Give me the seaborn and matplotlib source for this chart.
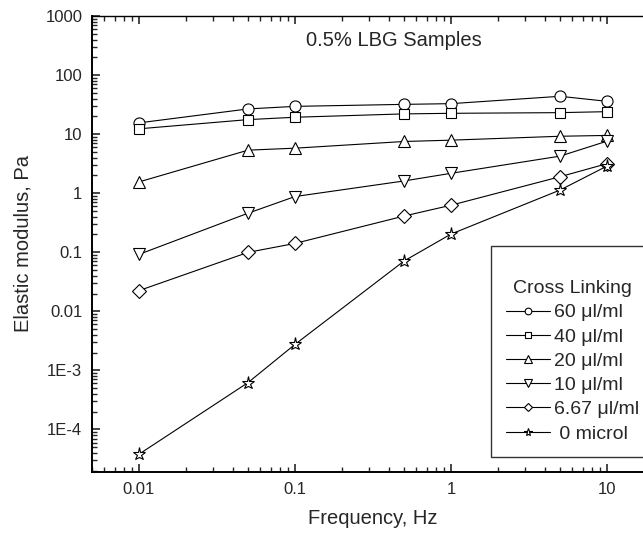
import pandas as pd
import matplotlib.pyplot as plt
import seaborn as sns
from matplotlib.ticker import FixedLocator, FixedFormatter, LogLocator, NullFormatter


#Readings taken from the reference figure
frequency = [0.01, 0.05, 0.1, 0.5, 1, 5, 10]
modulus_60 = [15.5, 26.7, 29.5, 31.9, 32.8, 43.7, 35.9]
modulus_40 = [12.3, 17.6, 19.3, 22.0, 22.5, 23.1, 24.0]
modulus_20 = [1.55, 5.35, 5.78, 7.5, 7.9, 9.2, 9.5]
modulus_10 = [0.092, 0.458, 0.877, 1.61, 2.17, 4.24, 7.6]
modulus_667 = [0.0224, 0.0995, 0.141, 0.41, 0.625, 1.9, 3.16]
modulus_0 = [3.8e-5, 6.2e-4, 2.75e-3, 0.071, 0.203, 1.13, 2.88]

series_names = ["60 \u03bcl/ml", "40 \u03bcl/ml", "20 \u03bcl/ml",
                "10 \u03bcl/ml", "6.67 \u03bcl/ml", " 0 microl"]
series_values = [modulus_60, modulus_40, modulus_20,
                 modulus_10, modulus_667, modulus_0]

y_tick_values = [1e-4, 1e-3, 0.01, 0.1, 1, 10, 100, 1000]
y_tick_labels = ["1E-4", "1E-3", "0.01", "0.1", "1", "10", "100", "1000"]
x_tick_values = [0.01, 0.1, 1, 10]
x_tick_labels = ["0.01", "0.1", "1", "10"]


#Long form table for seaborn
rows = []
for name, values in zip(series_names, series_values):
    for f, v in zip(frequency, values):
        rows.append({"frequency": f, "modulus": v, "crosslink": name})
lbg_data = pd.DataFrame(rows)


sns.set_style("white")
plt.rcParams["font.family"] = ["Liberation Sans", "DejaVu Sans"]

fig = plt.figure(figsize=(6.43, 5.36), dpi=100)
ax = fig.add_axes([92 / 643, 64 / 536, 562 / 643, 456 / 536])

marker_map = dict(zip(series_names, ["o", "s", "^", "v", "D", "*"]))
size_map = dict(zip(series_names, [8, 7, 8.5, 8.5, 7.5, 9.5]))

for name in series_names:
    part = lbg_data[lbg_data["crosslink"] == name]
    sns.lineplot(x="frequency", y="modulus", data=part, ax=ax,
                 color="black", linewidth=0.8, marker=marker_map[name],
                 markersize=size_map[name], markerfacecolor="white",
                 markeredgecolor="black", markeredgewidth=0.8,
                 label=name, legend=False)

ax.set_xscale("log")
ax.set_yscale("log")
ax.set_xlim(0.005, 20)
ax.set_ylim(1.9e-5, 1000)

ax.xaxis.set_major_locator(FixedLocator(x_tick_values))
ax.xaxis.set_major_formatter(FixedFormatter(x_tick_labels))
ax.yaxis.set_major_locator(FixedLocator(y_tick_values))
ax.yaxis.set_major_formatter(FixedFormatter(y_tick_labels))
ax.xaxis.set_minor_locator(LogLocator(base=10, subs=range(2, 10), numticks=20))
ax.yaxis.set_minor_locator(LogLocator(base=10, subs=range(2, 10), numticks=20))
ax.xaxis.set_minor_formatter(NullFormatter())
ax.yaxis.set_minor_formatter(NullFormatter())

ax.tick_params(which="major", direction="in", length=6, width=1.2,
               labelsize=12, top=True, left=True, bottom=True, pad=7)
ax.tick_params(which="minor", direction="in", length=3.5, width=1.0,
               top=True, left=True, bottom=True)

for side in ["left", "bottom", "top"]:
    ax.spines[side].set_color("black")
    ax.spines[side].set_linewidth(1.4)
ax.spines["top"].set_linewidth(1.0)
ax.spines["right"].set_visible(False)

ax.set_xlabel("Frequency, Hz", fontsize=14.5, labelpad=9)
ax.set_ylabel("Elastic modulus, Pa", fontsize=14.5, labelpad=9)

ax.text(0.537, 0.947, "0.5% LBG Samples", transform=ax.transAxes,
        ha="center", va="center", fontsize=14.5)

#Legend box runs past the right edge like in the original
handles, labels = ax.get_legend_handles_labels()
leg = ax.legend(handles, labels, title="\nCross Linking", loc="upper left",
                bbox_to_anchor=(491 / 643, 1 - 246 / 536),
                bbox_transform=fig.transFigure, frameon=True, fancybox=False,
                fontsize=14, title_fontsize=14, markerscale=0.6,
                handlelength=2.3, handletextpad=0.2, labelspacing=0.34,
                borderpad=0.75, borderaxespad=0)
leg.get_frame().set_edgecolor("black")
leg.get_frame().set_linewidth(1.0)

fig.savefig("out.png", dpi=100)
